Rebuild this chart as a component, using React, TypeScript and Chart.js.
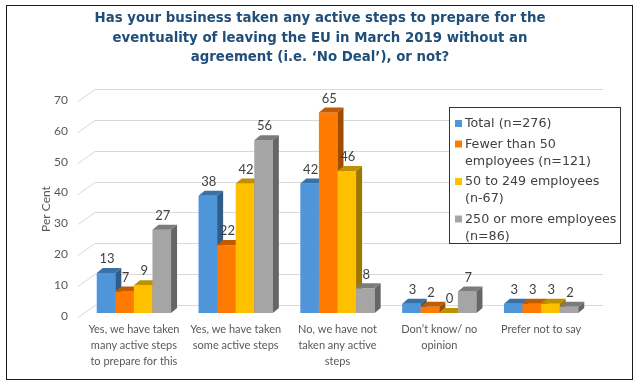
import React, { useEffect, useRef } from 'react';
import { Chart, registerables } from 'chart.js';

Chart.register(...registerables);

const TITLE_LINES = [
  'Has your business taken any active steps to prepare for the',
  'eventuality of leaving the EU in March 2019 without an',
  'agreement (i.e. ‘No Deal’), or not?',
];
const CATEGORIES = [
  ['Yes, we have taken', 'many active steps', 'to prepare for this'],
  ['Yes, we have taken', 'some active steps'],
  ['No, we have not', 'taken any active', 'steps'],
  ['Don’t know/ no', 'opinion'],
  ['Prefer not to say'],
];
const SERIES_NAMES = [
  'Total (n=276)',
  'Fewer than 50 employees (n=121)',
  '50 to 249 employees (n-67)',
  '250 or more employees (n=86)',
];
const TOTAL = [13, 38, 42, 3, 3];
const FEWER_THAN_50 = [7, 22, 65, 2, 3];
const FROM_50_TO_249 = [9, 42, 46, 0, 3];
const FROM_250 = [27, 56, 8, 7, 2];
const Y_MIN = 0;
const Y_MAX = 70;
const Y_STEP = 10;
const Y_TITLE = 'Per Cent';
const COLORS = ['#4E95DA', '#FF7A00', '#FFC000', '#A5A5A5'];

const DX = 6;
const DY = 5;

function shade(hex: string, f: number) {
  const n = parseInt(hex.slice(1), 16);
  const r = Math.round(((n >> 16) & 255) * f);
  const g = Math.round(((n >> 8) & 255) * f);
  const b = Math.round((n & 255) * f);
  return `rgb(${r},${g},${b})`;
}

function wrap(ctx: CanvasRenderingContext2D, text: string, maxW: number) {
  const words = text.split(' ');
  const lines: string[] = [];
  let cur = '';
  for (const w of words) {
    const t = cur ? cur + ' ' + w : w;
    if (cur && ctx.measureText(t).width > maxW) {
      lines.push(cur);
      cur = w;
    } else cur = t;
  }
  if (cur) lines.push(cur);
  return lines;
}

const threeD = {
  id: 'threeD',
  beforeDatasetsDraw(chart: any) {
    const ctx: CanvasRenderingContext2D = chart.ctx;
    const ys = chart.scales.y;
    const ca = chart.chartArea;
    ctx.save();
    // 3D gridlines (side wall + back wall)
    ctx.strokeStyle = '#D9D9D9';
    ctx.lineWidth = 1;
    ys.ticks.forEach((t: any) => {
      const py = Math.round(ys.getPixelForValue(t.value));
      ctx.beginPath();
      ctx.moveTo(ca.left - 5, py + 4.5);
      ctx.lineTo(ca.left + 12, py - 7.5);
      ctx.lineTo(ca.right + 11, py - 7.5);
      ctx.stroke();
    });
    const n = chart.data.labels.length;
    const nd = chart.data.datasets.length;
    const labels: any[] = [];
    for (let i = 0; i < n; i++) {
      for (let d = 0; d < nd; d++) {
        const meta = chart.getDatasetMeta(d);
        const el = meta.data[i];
        const p = el.getProps(['x', 'y', 'base', 'width'], true);
        const c = chart.data.datasets[d].backgroundColor;
        const l = p.x - p.width / 2;
        const r = p.x + p.width / 2;
        const top = Math.min(p.y, p.base);
        const bot = Math.max(p.y, p.base);
        // front
        ctx.fillStyle = c;
        ctx.fillRect(l, top, r - l, bot - top);
        // top face
        ctx.fillStyle = shade(c, 0.75);
        ctx.beginPath();
        ctx.moveTo(l, top);
        ctx.lineTo(l + DX, top - DY);
        ctx.lineTo(r + DX, top - DY);
        ctx.lineTo(r, top);
        ctx.closePath();
        ctx.fill();
        // side face
        ctx.fillStyle = shade(c, 0.62);
        ctx.beginPath();
        ctx.moveTo(r, top);
        ctx.lineTo(r + DX, top - DY);
        ctx.lineTo(r + DX, bot - DY);
        ctx.lineTo(r, bot);
        ctx.closePath();
        ctx.fill();
        labels.push({ x: p.x + 1, y: top - DY - 9, v: chart.data.datasets[d].data[i] });
      }
    }
    ctx.fillStyle = '#404040';
    ctx.font = '13px Lato';
    ctx.textAlign = 'center';
    ctx.textBaseline = 'middle';
    labels.forEach((lb) => ctx.fillText(String(lb.v), lb.x, lb.y));
    ctx.restore();
    return false;
  },
  beforeDraw(chart: any) {
    const ctx: CanvasRenderingContext2D = chart.ctx;
    ctx.save();
    ctx.fillStyle = '#fff';
    ctx.fillRect(0, 0, chart.width, chart.height);
    ctx.restore();
  },
  afterDraw(chart: any) {
    const ctx: CanvasRenderingContext2D = chart.ctx;
    ctx.save();
    // border
    ctx.strokeStyle = '#1a1a1a';
    ctx.lineWidth = 1;
    ctx.strokeRect(6.5, 5.5, 626, 374);
    // title
    ctx.fillStyle = '#1F4E79';
    ctx.font = 'bold 14.8px "DejaVu Sans Condensed", "DejaVu Sans"';
    ctx.textAlign = 'center';
    ctx.textBaseline = 'middle';
    TITLE_LINES.forEach((t, i) => ctx.fillText(t, 320, 18.5 + i * 19.5));
    // y title
    ctx.save();
    ctx.translate(46, 209);
    ctx.rotate(-Math.PI / 2);
    ctx.fillStyle = '#595959';
    ctx.font = '12px Lato';
    ctx.textAlign = 'center';
    ctx.fillText(Y_TITLE, 0, 0);
    ctx.restore();
    // legend
    const lx = 449.5, ly = 107.5, lw = 171, lh = 136;
    ctx.fillStyle = '#fff';
    ctx.fillRect(lx, ly, lw, lh);
    ctx.strokeStyle = '#333';
    ctx.strokeRect(lx, ly, lw, lh);
    ctx.font = '12.7px "DejaVu Sans"';
    ctx.textAlign = 'left';
    let yy = 124;
    chart.data.datasets.forEach((ds: any) => {
      const lines = wrap(ctx, ds.label, 160);
      ctx.fillStyle = ds.backgroundColor;
      ctx.fillRect(455, yy - 4, 7, 7);
      ctx.fillStyle = '#404040';
      lines.forEach((ln, k) => ctx.fillText(ln, 465, yy + k * 17));
      yy += lines.length * 17 + 3.5;
    });
    ctx.restore();
  },
};

export default function App() {
  const ref = useRef<HTMLCanvasElement>(null);
  useEffect(() => {
    const series = [TOTAL, FEWER_THAN_50, FROM_50_TO_249, FROM_250];
    const chart = new Chart(ref.current!, {
      type: 'bar',
      data: {
        labels: CATEGORIES as any,
        datasets: series.map((s, i) => ({
          label: SERIES_NAMES[i],
          data: s,
          backgroundColor: COLORS[i],
          categoryPercentage: 0.73,
          barPercentage: 1,
        })),
      },
      options: {
        animation: false,
        responsive: false,
        events: [],
        layout: { padding: { left: 0, top: 97, right: 49, bottom: 0 } },
        plugins: {
          legend: { display: false },
          title: { display: false },
          tooltip: { enabled: false },
        },
        scales: {
          x: {
            grid: { display: false, drawTicks: false },
            border: { display: false },
            ticks: {
              color: '#595959',
              font: { family: 'Lato', size: 11, lineHeight: 16 / 11 },
              padding: 8,
              maxRotation: 0,
              minRotation: 0,
              autoSkip: false,
            },
            afterFit: (s: any) => {
              s.height = 78;
            },
          },
          y: {
            min: Y_MIN,
            max: Y_MAX,
            grid: { display: false, drawTicks: false },
            border: { display: false },
            ticks: {
              stepSize: Y_STEP,
              color: '#595959',
              font: { family: 'Lato', size: 12 },
              padding: 15,
              labelOffset: 3,
            },
            afterFit: (s: any) => {
              s.width = 83;
            },
          },
        },
      },
      plugins: [threeD],
    });
    return () => chart.destroy();
  }, []);
  return (
    <div style={{ position: 'absolute', left: 0, top: 0, width: 641, height: 391, background: '#fff' }}>
      <canvas ref={ref} width={641} height={391} style={{ display: 'block', width: 641, height: 391 }} />
    </div>
  );
}
